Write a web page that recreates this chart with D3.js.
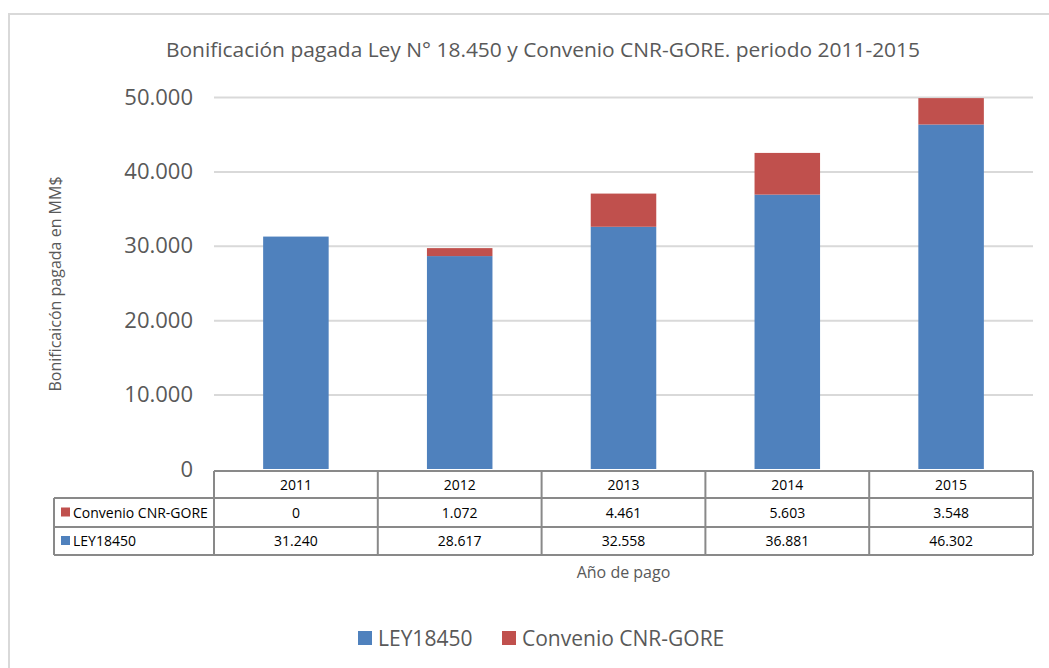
<!DOCTYPE html>
<html>
<head>
<meta charset="utf-8">
<script src="https://cdn.jsdelivr.net/npm/d3@7"></script>
<style>
  html, body { margin: 0; padding: 0; background: #fff; }
  svg { display: block; font-family: "Open Sans", "Noto Sans", sans-serif; }
</style>
</head>
<body>
<svg id="chart" width="1049" height="668"></svg>
<script>
const years = ["2011", "2012", "2013", "2014", "2015"];
const ley18450 = [31240, 28617, 32558, 36881, 46302];
const convenio = [0, 1072, 4461, 5603, 3548];
const yTicks = [0, 10000, 20000, 30000, 40000, 50000];
const seriesNames = ["LEY18450", "Convenio CNR-GORE"];
const colors = ["#4f81bd", "#c0504d"];
const titleText = "Bonificación pagada Ley N° 18.450 y Convenio CNR-GORE. periodo 2011-2015";
const yTitle = "Bonificaicón pagada en MM$";
const xTitle = "Año de pago";

(function () {
const svg = d3.select("#chart");
const locale = d3.formatLocale({ decimal: ",", thousands: ".", grouping: [3], currency: ["$", ""] });
const fmt = locale.format(",d");

// chart border
svg.append("rect").attr("x", 9).attr("y", 14).attr("width", 1045).attr("height", 670)
  .attr("fill", "none").attr("stroke", "#d9d9d9").attr("stroke-width", 2);

const pl = 214, pr = 1033, pt = 97, pb = 469;
const x = d3.scaleBand().domain(years).range([pl, pr]).paddingInner(0.6).paddingOuter(0.3);
const col = d3.scaleBand().domain(years).range([pl, pr]);
const y = d3.scaleLinear().domain([0, 50000]).range([pb, pt]);

// title
svg.append("text").attr("x", 543).attr("y", 57).attr("text-anchor", "middle")
  .attr("font-size", 20).attr("fill", "#595959")
  .attr("textLength", 754).attr("lengthAdjust", "spacingAndGlyphs").text(titleText);

// gridlines + tick labels
const yAxis = d3.axisLeft(y).tickValues(yTicks).tickSize(-(pr - pl)).tickFormat(fmt).tickPadding(21);
const gy = svg.append("g").attr("transform", `translate(${pl},0)`).call(yAxis);
gy.select(".domain").remove();
gy.selectAll(".tick line").attr("stroke", "#d9d9d9").attr("stroke-width", 2)
  .filter(d => d === 0).remove();
gy.selectAll(".tick text").attr("font-size", 22).attr("fill", "#595959")
  .attr("font-family", "'Open Sans', sans-serif");

// y title
svg.append("text").attr("transform", `translate(61,284) rotate(-90)`).attr("text-anchor", "middle")
  .attr("font-size", 16).attr("fill", "#595959").text(yTitle);

// stacked bars
const data = years.map((yr, i) => ({ year: yr, LEY18450: ley18450[i], "Convenio CNR-GORE": convenio[i] }));
const stack = d3.stack().keys(seriesNames)(data);
svg.append("g").selectAll("g").data(stack).join("g")
  .attr("fill", (d, i) => colors[i])
  .selectAll("rect").data(d => d).join("rect")
  .attr("x", d => x(d.data.year))
  .attr("width", x.bandwidth())
  .attr("y", d => y(d[1]))
  .attr("height", d => y(d[0]) - y(d[1]));

// data table
const tTop = 471, r1 = 498, r2 = 527, r3 = 555, legL = 54;
const tg = svg.append("g").attr("stroke", "#898989").attr("stroke-width", 2).attr("fill", "none");
tg.append("line").attr("x1", pl).attr("x2", pr).attr("y1", tTop).attr("y2", tTop);
[r1, r2, r3].forEach(yy => tg.append("line").attr("x1", legL).attr("x2", pr).attr("y1", yy).attr("y2", yy));
tg.append("line").attr("x1", legL).attr("x2", legL).attr("y1", r1).attr("y2", r3);
years.forEach(yr => tg.append("line").attr("x1", col(yr)).attr("x2", col(yr)).attr("y1", tTop).attr("y2", r3));
tg.append("line").attr("x1", pr).attr("x2", pr).attr("y1", tTop).attr("y2", r3);

const tt = svg.append("g").attr("font-size", 14).attr("fill", "#000").attr("text-anchor", "middle");
years.forEach((yr, i) => {
  const cx = col(yr) + col.bandwidth() / 2;
  tt.append("text").attr("x", cx).attr("y", (tTop + r1) / 2 + 5).text(yr);
  tt.append("text").attr("x", cx).attr("y", (r1 + r2) / 2 + 5).text(fmt(convenio[i]));
  tt.append("text").attr("x", cx).attr("y", (r2 + r3) / 2 + 5).text(fmt(ley18450[i]));
});
// table row legend
const rowsLeg = [{ name: seriesNames[1], c: colors[1], y0: r1, y1: r2 }, { name: seriesNames[0], c: colors[0], y0: r2, y1: r3 }];
rowsLeg.forEach(r => {
  const cy = (r.y0 + r.y1) / 2;
  svg.append("rect").attr("x", 61).attr("y", cy - 5).attr("width", 9).attr("height", 9).attr("fill", r.c);
  svg.append("text").attr("x", 73).attr("y", cy + 5).attr("font-size", 14).attr("fill", "#000").text(r.name);
});

// x title
svg.append("text").attr("x", (pl + pr) / 2).attr("y", 578).attr("text-anchor", "middle")
  .attr("font-size", 16).attr("fill", "#595959").text(xTitle);

// legend
const legItems = [{ name: seriesNames[0], c: colors[0], x: 358 }, { name: seriesNames[1], c: colors[1], x: 502 }];
legItems.forEach(l => {
  svg.append("rect").attr("x", l.x).attr("y", 631).attr("width", 14).attr("height", 14).attr("fill", l.c);
  svg.append("text").attr("x", l.x + 20).attr("y", 646).attr("font-size", 21).attr("fill", "#595959").text(l.name);
});
})();
</script>
</body>
</html>
